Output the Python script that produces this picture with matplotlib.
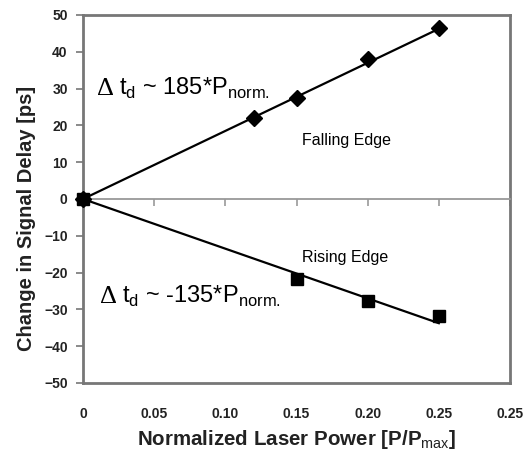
import numpy as np
import matplotlib
matplotlib.use('Agg')
import matplotlib.pyplot as plt

plt.rcParams['font.family'] = ['Liberation Sans', 'DejaVu Sans']
plt.rcParams['mathtext.fontset'] = 'custom'
plt.rcParams['mathtext.rm'] = 'Liberation Sans'

# measured points
falling_x = [0.0, 0.12, 0.15, 0.20, 0.25]
falling_y = [0.0, 22.0, 27.5, 38.0, 46.5]
rising_x = [0.0, 0.15, 0.20, 0.25]
rising_y = [0.0, -21.7, -27.7, -31.8]

# linear fits
fit_x = np.array([0.0, 0.25])
falling_slope = 185
rising_slope = -135

x_ticks = [0, 0.05, 0.10, 0.15, 0.20, 0.25, 0.30]
x_ticklabels = ['0', '0.05', '0.10', '0.15', '0.20', '0.25', '0.25']
y_ticks = np.arange(-50, 51, 10)

fig = plt.figure(figsize=(5.27, 4.5), dpi=100)
ax = fig.add_axes([83/527, 1 - 383/450, (510-83)/527, (383-15)/450])

ax.plot(fit_x, falling_slope * fit_x, color='black', lw=1.6, zorder=3)
ax.plot(fit_x, rising_slope * fit_x, color='black', lw=1.6, zorder=3)
ax.plot(falling_x, falling_y, ls='none', marker='D', ms=8, color='black',
        zorder=4, clip_on=False)
ax.plot(rising_x, rising_y, ls='none', marker='s', ms=9, color='black',
        zorder=5, clip_on=False)

ax.set_xlim(0, 0.30)
ax.set_ylim(-50, 50)
ax.set_yticks(y_ticks)
for lab in ax.get_yticklabels():
    lab.set_fontweight('bold')
ax.tick_params(axis='y', length=5, width=1.2, direction='out', pad=6,
               labelsize=10, color='#777777', labelcolor='#222222')

for sp in ax.spines.values():
    sp.set_color('#777777')
    sp.set_linewidth(2)

# the main x axis sits on the zero line, ticks pointing down, no labels
ax.spines['bottom'].set_position(('data', 0))
ax.spines['bottom'].set_color('#999999')
ax.spines['bottom'].set_linewidth(1.3)
ax.set_xticks(x_ticks)
ax.tick_params(axis='x', length=5, width=1.2, direction='out',
               color='#999999', labelbottom=False)

# frame bottom carries the tick labels
low = ax.secondary_xaxis('bottom')
low.set_xticks(x_ticks)
low.set_xticklabels(x_ticklabels)
for lab in low.get_xticklabels():
    lab.set_fontweight('bold')
low.tick_params(axis='x', length=0, pad=17, labelsize=10, labelcolor='#222222')
low.spines['bottom'].set_color('#777777')
low.spines['bottom'].set_linewidth(2)
low.set_xlabel('Normalized Laser Power [P/P$_{\\mathrm{max}}$]', fontsize=14.8,
               fontweight='bold', color='#222222', labelpad=5)

ax.set_ylabel('Change in Signal Delay [ps]', fontsize=14.5, fontweight='bold',
              color='#222222', labelpad=6)
ax.yaxis.label.set_y(0.448)

ax.text(0.0098, 30, '\u0394', fontsize=19, family='Liberation Serif',
        va='center', ha='left')
ax.text(0.0250, 30, 't$_{\\mathrm{d}}$ ~ 185*P$_{\\mathrm{norm.}}$',
        fontsize=17, va='center', ha='left')
ax.text(0.0120, -26.5, '\u0394', fontsize=19, family='Liberation Serif',
        va='center', ha='left')
ax.text(0.0275, -26.5, 't$_{\\mathrm{d}}$ ~ -135*P$_{\\mathrm{norm.}}$',
        fontsize=17, va='center', ha='left')
ax.text(0.154, 16, 'Falling Edge', fontsize=11.5, va='center', ha='left')
ax.text(0.154, -16, 'Rising Edge', fontsize=11.5, va='center', ha='left')

fig.savefig('out.png', dpi=100)
